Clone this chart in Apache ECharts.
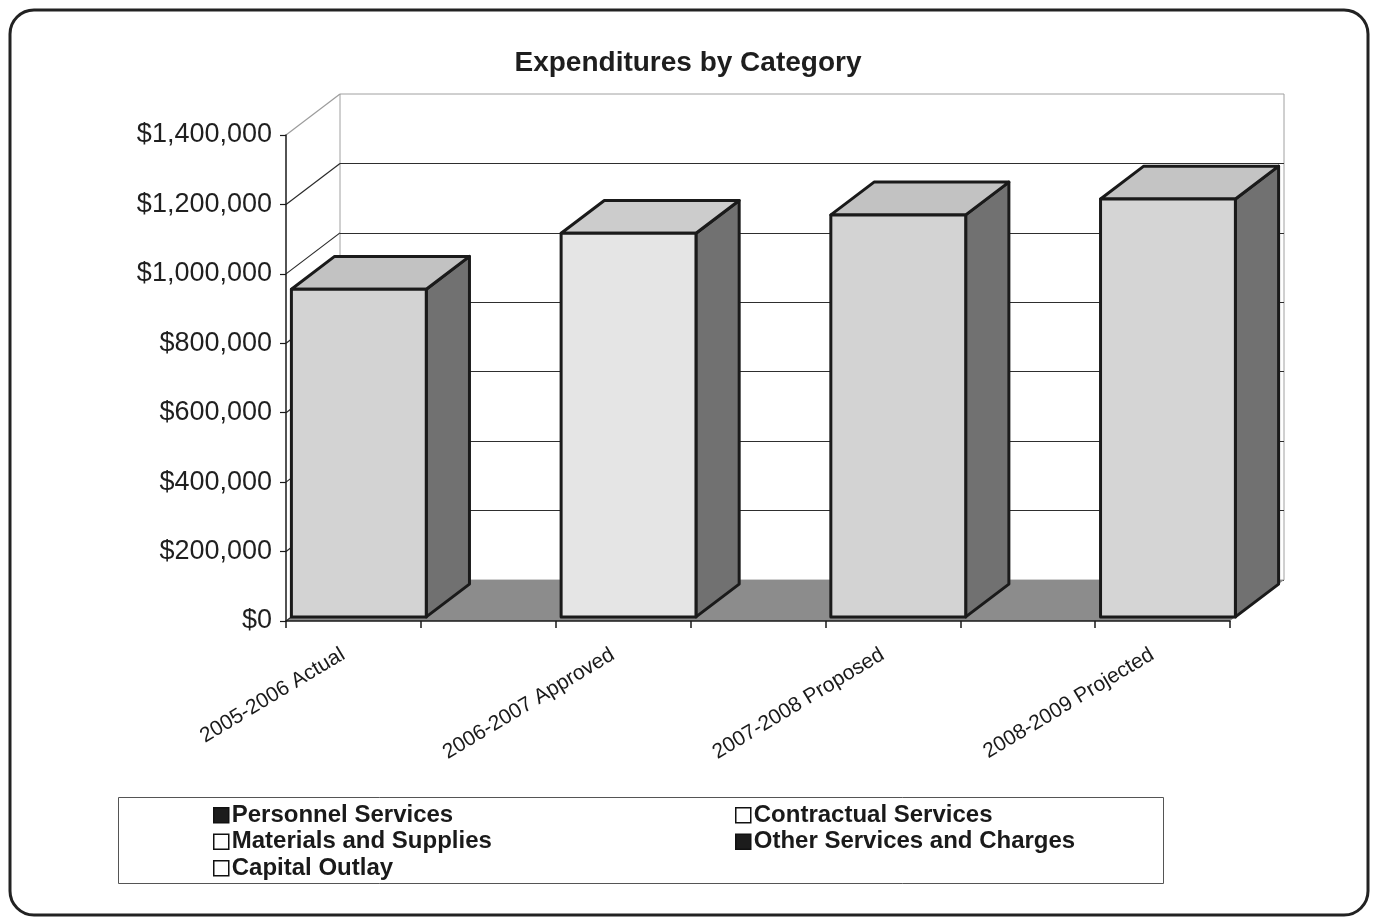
<!DOCTYPE html>
<html>
<head>
<meta charset="utf-8">
<script src="https://cdn.jsdelivr.net/npm/echarts@6/dist/echarts.min.js"></script>
<style>
  html, body { margin: 0; padding: 0; background: #ffffff; }
  #chart { width: 1376px; height: 918px; }
</style>
</head>
<body>
<div id="chart"></div>
<script>
// ---- data ----
const categories = ['2005-2006 Actual', '2006-2007 Approved', '2007-2008 Proposed', '2008-2009 Projected'];
const totals = [944000, 1105000, 1158000, 1204000];
const legendNames = ['Personnel Services', 'Contractual Services', 'Materials and Supplies',
                     'Other Services and Charges', 'Capital Outlay'];
const yTicks = [0, 200000, 400000, 600000, 800000, 1000000, 1200000, 1400000];

// ---- layout / style constants ----
const FONT = '"Liberation Sans", Arial, sans-serif';
const Y_MAX = 1400000;
const Y_STEP = 200000;
const SLOTS = categories.length * 2 - 1;      // each column followed by an empty slot
const DX = 54, DY = -41;                       // depth of the 3-D box in pixels
const BAR_FRONT = 0.1, BAR_DEPTH = 0.8;        // column position inside the depth
const frontFill = ['#d3d3d3', '#e5e5e5', '#d3d3d3', '#d5d5d5'];
const topFill = ['#c2c2c2', '#cccccc', '#c2c2c2', '#c4c4c4'];
const sideFill = '#717171';
const legendSwatch = {
  'Personnel Services': '#1c1c1c',
  'Contractual Services': '#ffffff',
  'Materials and Supplies': '#ffffff',
  'Other Services and Charges': '#1c1c1c',
  'Capital Outlay': '#ffffff'
};

const chart = echarts.init(document.getElementById('chart'), null, { renderer: 'canvas' });

const GRID_LEFT = 286, GRID_TOP = 135, GRID_W = 944, GRID_H = 486;

function money(v) {
  return '$' + Math.round(v).toLocaleString('en-US');
}

// floor of the 3-D box
function renderFloor(params, api) {
  const a = api.coord([0, 0]);
  const b = api.coord([SLOTS, 0]);
  return {
    type: 'polygon',
    shape: { points: [a, b, [b[0] + DX, b[1] + DY], [a[0] + DX, a[1] + DY]] },
    style: { fill: '#8c8c8c', stroke: null }
  };
}

// gridlines running across the left side wall
function renderSideWall(params, api) {
  const v = api.value(0);
  const p = api.coord([0, v]);
  return {
    type: 'line',
    shape: { x1: p[0], y1: p[1], x2: p[0] + DX, y2: p[1] + DY },
    style: { stroke: v >= Y_MAX ? '#9c9c9c' : '#2a2a2a', lineWidth: 1.2 }
  };
}

// one 3-D column: front, top and right side faces
function renderColumn(params, api) {
  const i = params.dataIndex;
  const slot = api.value(0);
  const v = api.value(1);
  const base = api.coord([slot, 0]);
  const tip = api.coord([slot + 1, v]);
  const fx = DX * BAR_FRONT, fy = DY * BAR_FRONT;
  const bx = DX * BAR_DEPTH, by = DY * BAR_DEPTH;
  const x0 = base[0] + fx, x1 = tip[0] + fx;
  const yb = base[1] + fy, yt = tip[1] + fy;
  const stroke = { stroke: '#1a1a1a', lineWidth: 3, lineJoin: 'round' };
  return {
    type: 'group',
    children: [
      {
        type: 'polygon',
        shape: { points: [[x1, yt], [x1 + bx, yt + by], [x1 + bx, yb + by], [x1, yb]] },
        style: Object.assign({ fill: sideFill }, stroke)
      },
      {
        type: 'polygon',
        shape: { points: [[x0, yt], [x1, yt], [x1 + bx, yt + by], [x0 + bx, yt + by]] },
        style: Object.assign({ fill: topFill[i] }, stroke)
      },
      {
        type: 'rect',
        shape: { x: x0, y: yt, width: x1 - x0, height: yb - yt },
        style: Object.assign({ fill: frontFill[i] }, stroke)
      }
    ]
  };
}

const legendSeries = legendNames.map(name => ({
  name: name,
  type: 'bar',
  xAxisIndex: 0,
  yAxisIndex: 0,
  data: [],
  itemStyle: { color: legendSwatch[name], borderColor: '#111111', borderWidth: 1.5 }
}));

function legendBlock(names, left) {
  return {
    orient: 'vertical',
    left: left,
    top: 802,
    padding: 0,
    icon: 'rect',
    itemWidth: 15,
    itemHeight: 15,
    itemGap: 0,
    selectedMode: false,
    data: names.map(n => ({
      name: n,
      itemStyle: { color: legendSwatch[n], borderColor: '#111111', borderWidth: 1.5 }
    })),
    textStyle: { fontFamily: FONT, fontSize: 24, fontWeight: 'bold', color: '#1a1a1a', lineHeight: 26.5, padding: [0, 0, 0, -2] }
  };
}

const option = {
  backgroundColor: '#ffffff',
  animation: false,
  title: {
    text: 'Expenditures by Category',
    left: 'center',
    top: 44,
    textStyle: { fontFamily: FONT, fontSize: 28, fontWeight: 'bold', color: '#1e1e1e' }
  },
  legend: [
    legendBlock(['Personnel Services', 'Materials and Supplies', 'Capital Outlay'], 213),
    legendBlock(['Contractual Services', 'Other Services and Charges'], 735)
  ],
  graphic: [
    {
      type: 'rect',
      shape: { x: 10, y: 10, width: 1358, height: 905, r: 24 },
      style: { fill: null, stroke: '#222222', lineWidth: 3 },
      silent: true, z: 100
    },
    {
      type: 'rect',
      shape: { x: 118.5, y: 797.5, width: 1045, height: 86 },
      style: { fill: null, stroke: '#555555', lineWidth: 1 },
      silent: true, z: 100
    }
  ],
  grid: [
    { left: GRID_LEFT, top: GRID_TOP, width: GRID_W, height: GRID_H, outerBoundsMode: 'none' },
    {
      left: GRID_LEFT + DX, top: GRID_TOP + DY, width: GRID_W, height: GRID_H,
      outerBoundsMode: 'none', show: true, borderColor: '#a0a0a0', borderWidth: 1, backgroundColor: 'transparent'
    }
  ],
  xAxis: [
    {
      gridIndex: 0, type: 'value', min: 0, max: SLOTS, interval: 1, position: 'bottom', z: 6,
      axisLine: { show: true, onZero: false, lineStyle: { color: '#1a1a1a', width: 1.5 } },
      axisTick: { show: true, length: 7, lineStyle: { color: '#1a1a1a', width: 1.5 } },
      axisLabel: { show: false },
      splitLine: { show: false }
    },
    {
      gridIndex: 0, type: 'value', min: 0, max: SLOTS, interval: 0.5, position: 'bottom',
      axisLine: { show: false }, axisTick: { show: false }, splitLine: { show: false },
      axisLabel: {
        show: true, rotate: 31, margin: 26, padding: [0, 12, 0, 0],
        fontFamily: FONT, fontSize: 21, color: '#1a1a1a',
        formatter: function (v) {
          const k = (v - 0.5) / 2;
          return Number.isInteger(k) && categories[k] !== undefined ? categories[k] : '';
        }
      }
    },
    {
      gridIndex: 1, type: 'value', min: 0, max: SLOTS, interval: 1, show: false
    }
  ],
  yAxis: [
    {
      gridIndex: 0, type: 'value', min: 0, max: Y_MAX, interval: Y_STEP, z: 6,
      axisLine: { show: true, onZero: false, lineStyle: { color: '#1a1a1a', width: 1.5 } },
      axisTick: { show: true, length: 6, lineStyle: { color: '#1a1a1a', width: 1.2 } },
      axisLabel: { margin: 14, fontFamily: FONT, fontSize: 27, color: '#1f1f1f', formatter: money },
      splitLine: { show: false }
    },
    {
      gridIndex: 1, type: 'value', min: 0, max: Y_MAX, interval: Y_STEP,
      axisLine: { show: false }, axisTick: { show: false }, axisLabel: { show: false },
      splitLine: { show: true, showMaxLine: false, lineStyle: { color: '#2e2e2e', width: 1.2 } }
    }
  ],
  series: [
    {
      name: 'floor', type: 'custom', xAxisIndex: 0, yAxisIndex: 0, z: 1, silent: true,
      renderItem: renderFloor, data: [[0]]
    },
    {
      name: 'side wall', type: 'custom', xAxisIndex: 0, yAxisIndex: 0, z: 1, silent: true,
      renderItem: renderSideWall, data: yTicks.map(v => [v])
    },
    {
      name: 'Total Expenditures', type: 'custom', xAxisIndex: 0, yAxisIndex: 0, z: 3,
      renderItem: renderColumn,
      encode: { x: 0, y: 1 },
      data: totals.map((v, i) => [i * 2, v])
    }
  ].concat(legendSeries)
};

chart.setOption(option);
</script>
</body>
</html>
